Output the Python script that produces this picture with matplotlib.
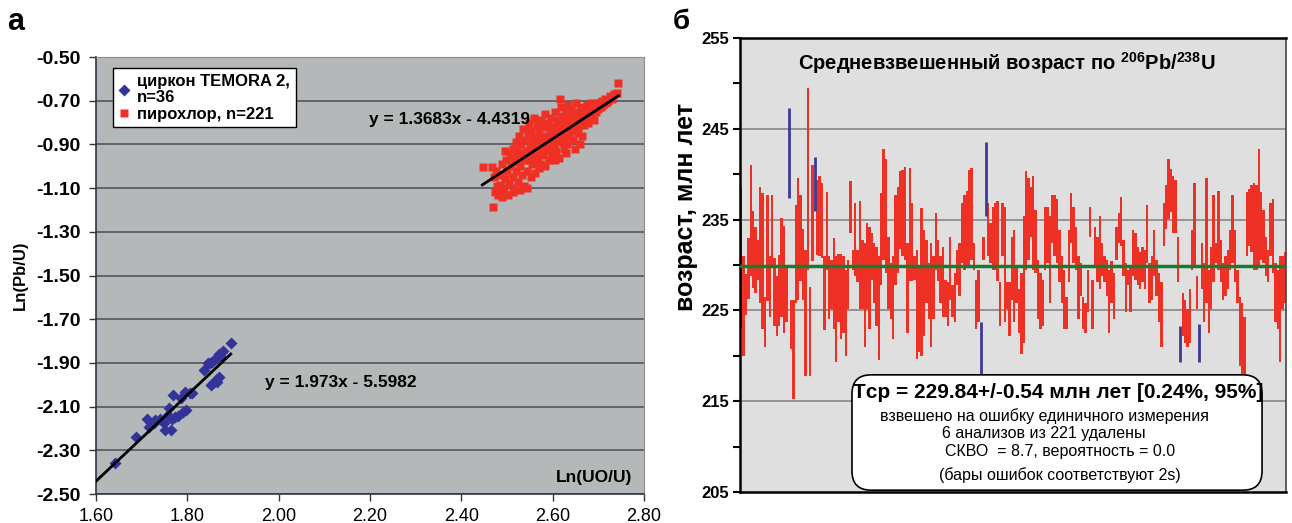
import numpy as np
import matplotlib
matplotlib.use('Agg')
import matplotlib.pyplot as plt
from matplotlib.patches import FancyBboxPatch

plt.rcParams['font.family'] = ['Liberation Sans', 'DejaVu Sans']
plt.rcParams['mathtext.fontset'] = 'custom'
plt.rcParams['mathtext.rm'] = 'Liberation Sans'
plt.rcParams['mathtext.bf'] = 'Liberation Sans:bold'
plt.rcParams['mathtext.default'] = 'bf'

# ---- panel a: Ln(Pb/U) vs Ln(UO/U)
zircon_x = [1.642, 1.688, 1.712, 1.716, 1.726, 1.729, 1.740, 1.748, 1.751, 1.764,
            1.760, 1.769, 1.772, 1.779, 1.766, 1.786, 1.795, 1.796, 1.791, 1.811,
            1.837, 1.846, 1.852, 1.855, 1.861, 1.866, 1.869, 1.874, 1.869, 1.864,
            1.857, 1.896, 1.877, 1.757, 1.806, 1.850]
zircon_y = [-2.357, -2.238, -2.158, -2.192, -2.174, -2.162, -2.158, -2.177, -2.207, -2.207,
            -2.108, -2.047, -2.149, -2.143, -2.158, -2.062, -2.032, -2.116, -2.123, -2.039,
            -1.933, -1.902, -2.001, -1.895, -1.884, -1.975, -1.963, -1.872, -1.857, -1.986,
            -1.993, -1.809, -1.845, -2.139, -2.039, -1.902]

pyro_x = [2.447, 2.467, 2.469, 2.474, 2.478, 2.472, 2.480, 2.476,
          2.485, 2.487, 2.490, 2.492, 2.495, 2.498, 2.500, 2.502, 2.505, 2.507, 2.508, 2.483, 2.489, 2.494, 2.496,
          2.512, 2.513, 2.515, 2.517, 2.519, 2.520, 2.522, 2.524, 2.526, 2.527, 2.529, 2.531, 2.533, 2.535, 2.536,
          2.538, 2.539, 2.514, 2.528, 2.521, 2.534,
          2.541, 2.543, 2.544, 2.545, 2.547, 2.549, 2.550, 2.552, 2.553, 2.555, 2.556, 2.558, 2.559, 2.561, 2.562,
          2.564, 2.565, 2.567, 2.568, 2.569, 2.546, 2.551, 2.557, 2.563,
          2.571, 2.572, 2.574, 2.575, 2.577, 2.578, 2.580, 2.581, 2.583, 2.584, 2.586, 2.587, 2.589, 2.590, 2.592,
          2.593, 2.595, 2.596, 2.598, 2.599, 2.576, 2.585, 2.594,
          2.601, 2.603, 2.604, 2.606, 2.607, 2.609, 2.611, 2.612, 2.614, 2.616, 2.617, 2.619, 2.620, 2.622, 2.624,
          2.625, 2.627, 2.629, 2.630, 2.632, 2.634, 2.635, 2.637, 2.639, 2.605, 2.618, 2.628, 2.633,
          2.641, 2.643, 2.645, 2.647, 2.649, 2.651, 2.653, 2.655, 2.657, 2.659, 2.661, 2.663, 2.665, 2.667, 2.669,
          2.671, 2.673, 2.675, 2.677, 2.679, 2.648, 2.660,
          2.681, 2.683, 2.685, 2.688, 2.690, 2.693, 2.695, 2.698, 2.700, 2.703, 2.705, 2.708, 2.711, 2.714, 2.717,
          2.722, 2.726, 2.730, 2.735, 2.741, 2.743]
pyro_y = [-1.005, -1.002, -1.185, -1.116, -1.090, -1.050, -1.130, -1.020,
          -1.086, -1.040, -0.990, -1.110, -1.060, -0.970, -1.020, -1.130, -1.080, -0.950, -1.000, -1.120, -1.140, -1.100, -0.930,
          -0.920, -1.050, -0.980, -1.100, -0.890, -1.020, -0.960, -1.070, -0.860, -0.940, -1.000, -0.900, -1.040, -0.830, -0.970,
          -1.090, -0.880, -1.120, -1.110, -0.930, -0.950,
          -0.930, -1.020, -1.100, -0.860, -0.970, -0.800, -0.910, -1.050, -0.840, -0.990, -0.890, -0.780, -0.940, -1.030, -0.860,
          -0.920, -0.810, -0.970, -0.880, -1.010, -0.830, -0.950, -0.910, -0.960,
          -0.840, -0.930, -0.790, -0.990, -0.870, -0.950, -0.820, -0.900, -0.760, -1.000, -0.860, -0.930, -0.800, -0.890, -0.970,
          -0.840, -0.910, -0.780, -0.870, -0.950, -0.910, -0.880, -0.820,
          -0.820, -0.900, -0.750, -0.860, -0.930, -0.790, -0.880, -0.840, -0.960, -0.693, -0.810, -0.890, -0.770, -0.850, -0.920,
          -0.800, -0.870, -0.750, -0.830, -0.900, -0.780, -0.860, -0.810, -0.740, -0.970, -0.730, -0.940, -0.720,
          -0.840, -0.790, -0.880, -0.750, -0.820, -0.710, -0.780, -0.850, -0.760, -0.810, -0.730, -0.790, -0.860, -0.750, -0.810,
          -0.740, -0.780, -0.720, -0.800, -0.760, -0.920, -0.900,
          -0.740, -0.710, -0.770, -0.730, -0.790, -0.720, -0.750, -0.710, -0.740, -0.712, -0.730, -0.700, -0.720, -0.690, -0.710,
          -0.700, -0.680, -0.690, -0.670, -0.663, -0.620]

zircon_fit = (1.973, -5.5982)
pyro_fit = (1.3683, -4.4319)
zircon_fit_x = [1.600, 1.895]
pyro_fit_x = [2.446, 2.744]

# ---- panel б: 206Pb/238U ages, 2s error bars (Ma)
age_hi = [238.6, 231.0, 229.0, 233.0, 241.0, 235.9, 234.2, 232.8, 238.6, 237.9,
          226.5, 237.7, 231.0, 237.7, 230.8, 228.8, 231.1, 235.2, 234.3, 229.7,
          247.3, 226.1, 226.1, 236.6, 239.6, 237.7, 234.0, 231.6, 249.5, 227.6,
          241.0, 241.9, 239.4, 239.8, 239.0, 231.0, 238.0, 231.0, 230.6, 233.0,
          231.0, 231.2, 231.2, 231.0, 229.5, 230.6, 239.2, 231.7, 236.8, 231.7,
          237.0, 232.8, 232.4,
          234.6, 234.2, 233.5, 232.4, 232.0, 231.0, 237.9, 242.8, 241.7, 233.1,
          230.2, 231.0, 237.7, 238.6, 240.3, 240.5, 240.8, 232.4, 240.7, 236.8,
          231.0, 231.7, 229.9, 236.3, 233.9, 232.8, 230.2, 232.4, 231.0, 235.7,
          232.8, 231.0, 232.0, 228.4, 228.1, 233.1, 227.8, 229.1, 231.7, 232.4,
          236.8, 237.7, 238.2, 240.5, 240.7, 232.4, 228.4, 229.5, 223.7, 233.1,
          243.5, 236.8, 234.6, 236.4, 236.8, 237.0, 228.1,
          236.8, 236.4, 228.1, 228.1, 233.1, 233.9, 229.9, 227.4, 229.1, 235.4,
          240.3, 239.6, 238.6, 239.8, 236.1, 230.6, 229.1, 228.4, 236.4, 236.4,
          235.4, 237.7, 237.7, 237.3, 233.9, 231.0, 229.5, 226.5, 233.9, 237.9,
          236.4, 234.2, 231.0, 230.2, 226.5, 225.8, 229.5, 236.4, 228.4, 234.2,
          233.1, 235.4, 232.4, 231.0, 230.6, 229.5, 230.4, 229.1, 234.2, 235.7,
          237.5, 232.8, 230.2, 229.5, 229.9, 233.9, 233.5, 232.0, 231.4, 232.0,
          231.7, 236.6, 230.2, 231.0, 233.9, 230.6, 229.1, 228.1, 236.8, 238.8,
          241.7, 240.6, 239.8, 239.4, 233.1, 223.3, 226.9, 226.1, 225.1, 227.4,
          233.9, 239.0, 228.8, 223.5, 232.4, 230.2, 239.6, 229.5, 232.0, 237.7,
          232.4, 238.2, 232.8, 230.2, 231.0, 231.7, 233.9, 237.7, 233.9, 229.5,
          226.5, 225.8, 224.3, 238.0, 238.4, 238.8, 239.0, 238.8, 242.8, 238.0,
          236.1, 233.1, 231.7, 236.8, 237.3, 230.2, 229.5, 231.0, 231.0, 231.4]
age_lo = [223.0, 220.0, 224.5, 226.2, 228.8, 227.5, 226.9, 228.4, 225.8, 222.9,
          221.0, 226.0, 224.3, 230.0, 223.3, 222.2, 223.3, 224.3, 222.5, 223.7,
          237.4, 220.7, 215.2, 225.8, 226.1, 228.2, 226.1, 217.8, 229.5, 217.8,
          230.4, 235.9, 231.1, 231.0, 230.8, 222.8, 229.5, 224.0, 225.1, 223.0,
          219.3, 223.7, 221.8, 222.5, 220.0, 225.1, 233.5, 229.5, 228.8, 228.1,
          225.1, 225.1, 221.0,
          225.1, 222.9, 228.4, 225.8, 223.3, 219.5, 227.8, 230.6, 229.1, 225.1,
          224.0, 221.8, 227.8, 229.1, 231.8, 231.0, 230.6, 222.5, 228.2, 228.2,
          228.4, 219.7, 220.4, 220.0, 222.2, 225.8, 224.0, 221.0, 224.0, 229.5,
          228.2, 225.8, 224.3, 224.3, 223.3, 226.1, 224.3, 223.7, 227.8, 226.6,
          230.2, 229.5, 229.9, 229.9, 230.6, 229.5, 222.9, 223.7, 218.0, 230.6,
          235.4, 231.0, 230.2, 229.5, 229.5, 228.2, 223.3,
          231.0, 223.7, 225.1, 222.2, 226.1, 223.7, 225.8, 222.5, 220.2, 221.4,
          229.5, 230.6, 233.1, 229.5, 229.1, 224.0, 222.9, 223.3, 229.5, 230.2,
          225.8, 232.4, 231.0, 230.2, 228.1, 225.8, 222.9, 222.9, 228.1, 232.4,
          230.2, 229.5, 224.0, 226.6, 222.9, 222.5, 224.8, 233.1, 222.9, 229.9,
          228.1, 227.4, 228.8, 228.1, 226.6, 222.5, 225.8, 224.0, 230.6, 232.4,
          232.1, 228.8, 224.8, 227.8, 224.8, 228.8, 228.4, 227.8, 227.4, 228.1,
          227.4, 230.2, 225.8, 226.1, 228.8, 226.6, 223.7, 221.0, 232.1, 234.0,
          235.1, 235.8, 233.5, 233.5, 228.1, 219.3, 222.2, 221.4, 221.0, 221.4,
          229.5, 229.9, 225.1, 219.3, 227.4, 223.7, 225.8, 222.5, 225.1, 228.1,
          230.2, 229.5, 228.1, 226.1, 226.6, 227.4, 229.5, 230.2, 228.1, 225.8,
          218.9, 216.3, 216.3, 231.0, 232.1, 231.4, 229.5, 229.5, 229.9, 230.6,
          230.2, 228.8, 228.1, 231.0, 229.1, 223.7, 222.9, 219.3, 225.1, 225.8]
rejected = [20, 31, 101, 103, 185, 193]
mean_age = 229.84

fig = plt.figure(figsize=(12.92, 5.23), dpi=100)

# ================= panel a
ax1 = fig.add_axes([0.0743, 0.0554, 0.4242, 0.8356])
ax1.set_facecolor('#B4B8B8')
ax1.set_xlim(1.6, 2.8)
ax1.set_ylim(-2.5, -0.5)
ax1.set_xticks(np.arange(1.6, 2.81, 0.2))
ax1.set_yticks(np.arange(-2.5, -0.49, 0.2))
ax1.xaxis.set_major_formatter(plt.FormatStrFormatter('%.2f'))
ax1.yaxis.set_major_formatter(plt.FormatStrFormatter('%.2f'))
ax1.grid(axis='y', color='#4c4c5c', lw=1.1)
ax1.set_axisbelow(True)
ax1.tick_params(axis='y', labelsize=14, length=5, width=1.0, color='#333344', pad=6)
ax1.tick_params(axis='x', labelsize=13, length=5, width=1.0, color='#333344', pad=5)
for t in ax1.get_yticklabels():
    t.set_fontweight('bold')
for s in ['left', 'bottom']:
    ax1.spines[s].set_color('#333344')
    ax1.spines[s].set_linewidth(1.2)
for s in ['top', 'right']:
    ax1.spines[s].set_color('#8a8e8e')
    ax1.spines[s].set_linewidth(0.8)

ax1.plot(zircon_x, zircon_y, 'D', color='#333399', ms=5.8, mec='none',
         label='циркон TEMORA 2,\nn=36', zorder=3)
ax1.plot(pyro_x, pyro_y, 's', color='#EE3124', ms=6.0, mec='none',
         label='пирохлор, n=221', zorder=3)

zx = np.array(zircon_fit_x)
px = np.array(pyro_fit_x)
ax1.plot(zx, zircon_fit[0] * zx + zircon_fit[1], color='black', lw=2, zorder=4)
ax1.plot(px, pyro_fit[0] * px + pyro_fit[1], color='black', lw=2, zorder=4)

ax1.text(2.375, -0.784, 'y = 1.3683x - 4.4319', fontsize=12.5, fontweight='bold',
         ha='center', va='center', zorder=5)
ax1.text(2.136, -1.99, 'y = 1.973x - 5.5982', fontsize=12.5, fontweight='bold',
         ha='center', va='center', zorder=5)
ax1.text(0.978, 0.037, 'Ln(UO/U)', transform=ax1.transAxes, fontsize=12.5,
         fontweight='bold', ha='right', va='center')

leg = ax1.legend(loc='upper left', bbox_to_anchor=(0.031, 0.975), frameon=True,
                 fancybox=False, edgecolor='black', framealpha=1,
                 prop={'weight': 'bold', 'size': 12}, handlelength=0.6,
                 handletextpad=0.5, borderpad=0.35, labelspacing=0.1,
                 borderaxespad=0)
leg.get_frame().set_linewidth(1.0)
for t in leg.get_texts():
    t.set_linespacing(1.1)

fig.text(20 / 1292, 1 - 275 / 523, 'Ln(Pb/U)', rotation=90, fontsize=12,
         fontweight='bold', ha='center', va='center')
fig.text(16 / 1292, 1 - 22 / 523, 'а', fontsize=22, fontweight='bold',
         ha='center', va='center')

# ================= panel б
ax2 = fig.add_axes([0.5728, 0.0593, 0.4226, 0.8681])
ax2.set_facecolor('#DEDFDE')
n = len(age_hi)
hi = np.array(age_hi)
lo = np.array(age_lo)
idx = np.arange(n)
ok = np.ones(n, dtype=bool)
ok[rejected] = False

ax2.bar(idx[ok], hi[ok] - lo[ok], bottom=lo[ok], width=1.0, color='#EE3124',
        linewidth=0, zorder=2)
ax2.vlines(idx[~ok], lo[~ok], hi[~ok], color='#3B3A98', lw=2.0, zorder=2)
ax2.axhline(mean_age, color='#1A7A30', lw=2.5, zorder=3)

ax2.set_xlim(-0.5, n - 0.5)
ax2.set_ylim(205, 255)
ax2.set_xticks([])
ax2.set_yticks([205, 215, 225, 235, 245, 255])
ax2.set_yticks([210, 220, 230, 240, 250], minor=True)
for g in [215, 225, 235, 245]:
    ax2.axhline(g, color='#8c8c8c', lw=1.3, zorder=1)
ax2.tick_params(axis='y', which='both', length=5, width=1.5, color='black',
                labelsize=12, pad=3)
for t in ax2.get_yticklabels():
    t.set_fontweight('bold')
for s in ['left', 'bottom', 'top']:
    ax2.spines[s].set_color('black')
    ax2.spines[s].set_linewidth(1.8)
ax2.spines['right'].set_color('#444444')
ax2.spines['right'].set_linewidth(1.2)

ax2.text(0.489, 0.945,
         r'Средневзвешенный возраст по $^{206}$Pb/$^{238}$U',
         transform=ax2.transAxes, fontsize=14.5, fontweight='bold',
         ha='center', va='center')

box = FancyBboxPatch((0.205, 0.004), 0.751, 0.254,
                     boxstyle='round,pad=0,rounding_size=0.035',
                     mutation_aspect=1.2, transform=ax2.transAxes,
                     facecolor='white', edgecolor='black', lw=1.2, zorder=4)
ax2.add_patch(box)

def px2ax(x, y):
    return (x - 740) / 546, (492 - y) / 454

lines = [
    ('Tср = 229.84+/-0.54 млн лет [0.24%, 95%]', 1058, 393, 15, 'bold'),
    ('взвешено на ошибку единичного измерения', 1044, 416, 11.5, 'normal'),
    ('6 анализов из 221 удалены', 1044, 434, 11.5, 'normal'),
    ('СКВО  = 8.7, вероятность = 0.0', 1060, 452, 11.5, 'normal'),
    ('(бары ошибок соответствуют 2s)', 1060, 475, 11.5, 'normal'),
]
for txt, x, y, fs, fw in lines:
    ax_x, ax_y = px2ax(x, y)
    ax2.text(ax_x, ax_y, txt, transform=ax2.transAxes, fontsize=fs,
             fontweight=fw, ha='center', va='center', zorder=5)

fig.text(686 / 1292, 1 - 207 / 523, 'возраст, млн лет', rotation=90, fontsize=18,
         fontweight='bold', ha='center', va='center')
fig.text(681 / 1292, 1 - 22 / 523, 'б', fontsize=20, fontweight='bold',
         ha='center', va='center')

fig.savefig('out.png', dpi=100)
